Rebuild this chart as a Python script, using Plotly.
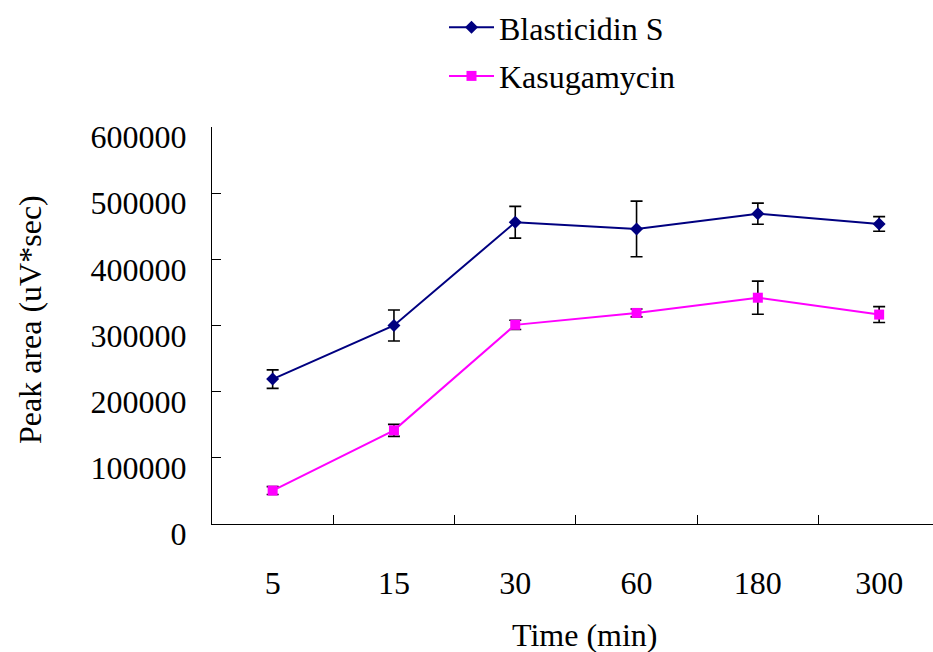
import plotly.graph_objects as go

times = ["5", "15", "30", "60", "180", "300"]
blast = [219000, 300000, 456000, 446000, 469000, 453500]
blast_err = [14000, 23500, 24000, 42000, 16000, 11000]
kasu = [50500, 141500, 301000, 319000, 342000, 316500]
kasu_err = [6000, 9000, 7000, 6000, 25000, 12000]
y_ticks = [0, 100000, 200000, 300000, 400000, 500000, 600000]

FONT = "Liberation Serif, Times New Roman, serif"
FS = 32

fig = go.Figure()
fig.add_trace(go.Scatter(
    x=times, y=blast, name="Blasticidin S", mode="lines+markers",
    line=dict(color="#000080", width=2),
    marker=dict(symbol="diamond", size=10, color="#000080"),
    error_y=dict(type="data", array=blast_err, color="black", thickness=1.6, width=6),
    legendgroup="a",
))
fig.add_trace(go.Scatter(
    x=times, y=kasu, name="Kasugamycin", mode="lines+markers",
    line=dict(color="#FF00FF", width=2),
    marker=dict(symbol="square", size=10, color="#FF00FF"),
    error_y=dict(type="data", array=kasu_err, color="black", thickness=1.6, width=6),
    legendgroup="b",
))

fig.update_layout(
    width=933, height=652,
    margin=dict(l=212, r=0, t=127, b=128),
    paper_bgcolor="white", plot_bgcolor="white",
    font=dict(family=FONT, size=FS, color="black"),
    showlegend=True,
    legend=dict(x=(444 - 212) / 721, y=1.0, xref="paper", yref="container", xanchor="left", yanchor="top",
                font=dict(family=FONT, size=FS), tracegroupgap=4,
                traceorder="grouped", bgcolor="rgba(0,0,0,0)", itemwidth=45),
)
fig.update_xaxes(
    type="category", range=[-0.5, 5.444],
    showline=True, linecolor="black", linewidth=1.3,
    ticks="inside", ticklen=9, tickcolor="black", tickwidth=1,
    tickson="boundaries", showgrid=False, zeroline=False,
    ticklabelstandoff=30,
    tickfont=dict(family=FONT, size=FS),
)
fig.update_yaxes(
    range=[0, 600000], tickvals=y_ticks, tickformat="d",
    showline=True, linecolor="black", linewidth=1.3,
    ticks="inside", ticklen=9, tickcolor="black", tickwidth=1,
    showgrid=False, zeroline=False,
    ticklabelstandoff=18, ticklabelshift=10,
    tickfont=dict(family=FONT, size=FS),
)
fig.add_annotation(text="Time (min)", xref="paper", yref="paper", x=(585 - 212) / 721, y=-(635 - 524) / 397,
                   showarrow=False, font=dict(family=FONT, size=FS), xanchor="center", yanchor="middle")
fig.add_annotation(text="Peak area (uV*sec)", xref="paper", yref="paper", x=-(212 - 30) / 721, y=(524 - 320) / 397,
                   showarrow=False, textangle=-90, font=dict(family=FONT, size=FS), xanchor="center", yanchor="middle")

fig.write_html("out.html")
